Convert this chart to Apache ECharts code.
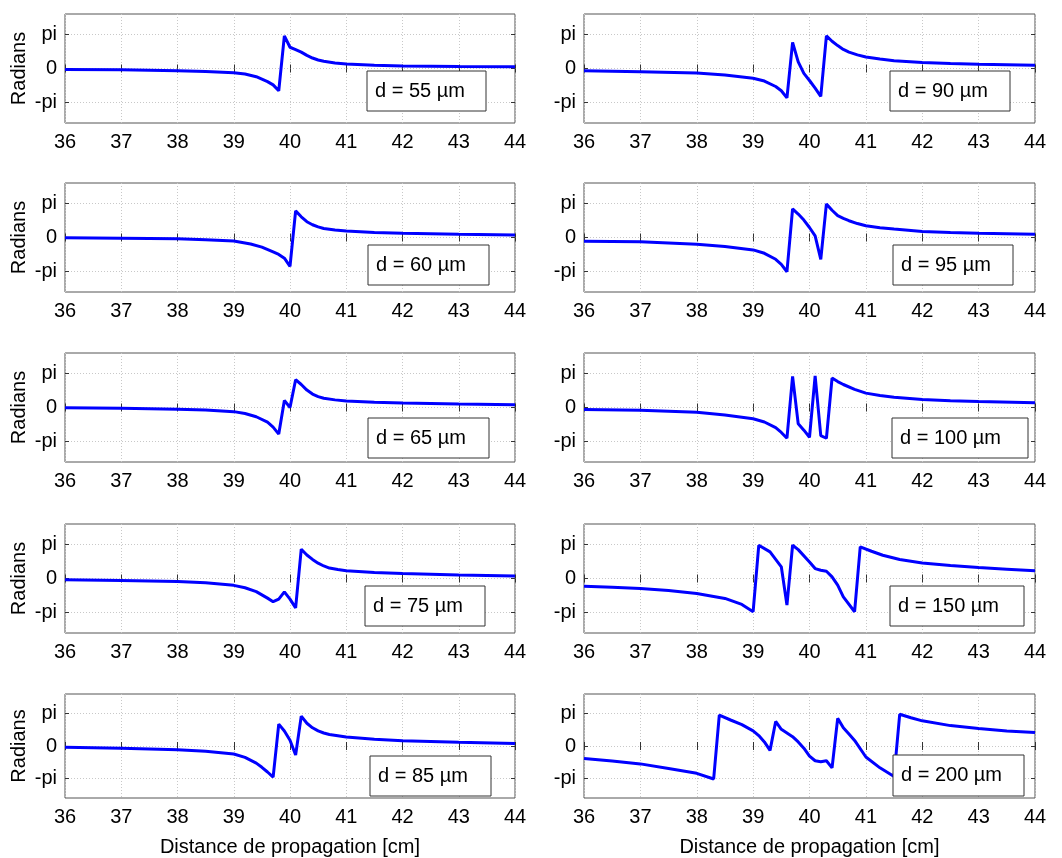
<!DOCTYPE html>
<html>
<head>
<meta charset="utf-8">
<script src="https://cdn.jsdelivr.net/npm/echarts@6/dist/echarts.min.js"></script>
<style>
html,body{margin:0;padding:0;background:#fff;}
#c{width:1062px;height:858px;}
</style>
</head>
<body>
<div id="c"></div>
<script>
// ---- data (x in cm, y in radians) ----
const d55 = [[36,-0.09],[37,-0.12],[38,-0.21],[38.5,-0.27],[39,-0.39],[39.2,-0.51],[39.4,-0.75],[39.6,-1.2],[39.7,-1.5],[39.8,-2.04],[39.9,3.0],[40.0,1.95],[40.1,1.74],[40.2,1.5],[40.3,1.2],[40.4,0.96],[40.5,0.78],[40.6,0.66],[40.8,0.51],[41,0.42],[41.5,0.3],[42,0.24],[43,0.18],[44,0.15]];
const d60 = [[36,-0.03],[37,-0.06],[38,-0.12],[38.5,-0.2],[39,-0.32],[39.3,-0.59],[39.5,-0.88],[39.7,-1.32],[39.8,-1.55],[39.9,-1.9],[40.0,-2.65],[40.1,2.44],[40.2,1.9],[40.3,1.45],[40.4,1.17],[40.5,0.97],[40.6,0.82],[40.8,0.68],[41,0.59],[41.5,0.46],[42,0.38],[43,0.29],[44,0.23]];
const d65 = [[36,-0.03],[37,-0.06],[38,-0.15],[38.5,-0.24],[39,-0.38],[39.2,-0.55],[39.4,-0.85],[39.6,-1.35],[39.7,-1.8],[39.8,-2.44],[39.9,0.65],[40.0,0],[40.1,2.55],[40.2,2.11],[40.3,1.6],[40.4,1.23],[40.5,1.0],[40.6,0.85],[40.8,0.7],[41,0.59],[41.5,0.48],[42,0.41],[43,0.32],[44,0.26]];
const d75 = [[36,-0.12],[37,-0.18],[38,-0.27],[38.5,-0.4],[39,-0.63],[39.2,-0.85],[39.4,-1.2],[39.6,-1.8],[39.7,-2.13],[39.8,-1.89],[39.9,-1.23],[40.0,-1.89],[40.1,-2.69],[40.2,2.69],[40.3,2.16],[40.4,1.75],[40.5,1.41],[40.6,1.15],[40.7,0.96],[40.85,0.82],[41,0.72],[41.5,0.56],[42,0.45],[43,0.33],[44,0.24]];
const d85 = [[36,-0.12],[37,-0.21],[38,-0.36],[38.5,-0.5],[39,-0.77],[39.2,-1.1],[39.4,-1.65],[39.5,-2.05],[39.6,-2.5],[39.7,-2.99],[39.8,2.1],[39.9,1.45],[40.0,0.56],[40.1,-0.86],[40.2,2.87],[40.3,2.19],[40.4,1.75],[40.5,1.45],[40.6,1.25],[40.7,1.1],[41,0.86],[41.5,0.65],[42,0.5],[43,0.36],[44,0.24]];
const d90 = [[36,-0.21],[37,-0.3],[38,-0.42],[38.5,-0.6],[39,-0.9],[39.2,-1.15],[39.4,-1.65],[39.5,-2.04],[39.6,-2.7],[39.7,2.4],[39.8,0.6],[39.9,-0.45],[40.0,-1.1],[40.1,-1.8],[40.2,-2.55],[40.3,3.0],[40.4,2.5],[40.5,2.1],[40.6,1.75],[40.7,1.5],[40.85,1.25],[41,1.05],[41.25,0.87],[41.5,0.72],[42,0.54],[42.5,0.46],[43,0.39],[44,0.3]];
const d95 = [[36,-0.34],[37,-0.4],[38,-0.62],[38.5,-0.82],[39,-1.14],[39.2,-1.45],[39.4,-2.0],[39.5,-2.46],[39.6,-3.14],[39.7,2.62],[39.8,2.15],[39.9,1.6],[40.0,0.92],[40.1,0.15],[40.2,-2.0],[40.3,3.08],[40.4,2.5],[40.5,2.0],[40.6,1.75],[40.7,1.54],[40.85,1.28],[41,1.08],[41.25,0.9],[41.5,0.77],[42,0.55],[42.5,0.47],[43,0.4],[44,0.3]];
const d100 = [[36,-0.18],[37,-0.26],[38,-0.44],[38.5,-0.68],[39,-1.03],[39.2,-1.33],[39.4,-1.85],[39.5,-2.29],[39.6,-2.82],[39.7,2.85],[39.8,-1.5],[39.9,-2.08],[40.0,-2.73],[40.1,2.91],[40.2,-2.58],[40.3,-2.82],[40.4,2.7],[40.5,2.38],[40.6,2.11],[40.8,1.67],[41,1.32],[41.25,1.1],[41.5,0.94],[42,0.73],[42.5,0.63],[43,0.56],[44,0.44]];
const d150 = [[36,-0.7],[36.5,-0.8],[37,-0.91],[37.5,-1.1],[38,-1.37],[38.5,-1.83],[38.8,-2.38],[39.0,-3.05],[39.1,3.05],[39.3,2.44],[39.5,1.07],[39.6,-2.44],[39.7,3.05],[39.8,2.65],[40.0,1.52],[40.1,0.91],[40.2,0.76],[40.3,0.67],[40.4,0.15],[40.5,-0.61],[40.6,-1.68],[40.8,-3.05],[40.9,2.9],[41.1,2.5],[41.3,2.13],[41.6,1.74],[42,1.43],[42.5,1.19],[43,1.0],[43.5,0.85],[44,0.7]];
const d200 = [[36,-1.21],[36.5,-1.45],[37,-1.72],[37.5,-2.17],[38.0,-2.63],[38.3,-3.17],[38.4,2.96],[38.6,2.5],[38.8,2.05],[39.0,1.45],[39.1,1.0],[39.2,0.39],[39.3,-0.42],[39.4,2.36],[39.5,1.6],[39.7,0.9],[39.8,0.39],[39.9,-0.21],[40.0,-0.97],[40.1,-1.42],[40.2,-1.51],[40.3,-1.42],[40.4,-2.11],[40.5,2.66],[40.6,1.75],[40.7,1.15],[40.8,0.54],[41.0,-1.06],[41.25,-2.1],[41.5,-2.93],[41.6,3.05],[41.8,2.72],[42,2.42],[42.5,1.96],[43,1.69],[43.5,1.45],[44,1.3]];

const seriesData = [d55, d60, d65, d75, d85, d90, d95, d100, d150, d200];
const labels = ['d = 55 µm','d = 60 µm','d = 65 µm','d = 75 µm','d = 85 µm','d = 90 µm','d = 95 µm','d = 100 µm','d = 150 µm','d = 200 µm'];
const yTickValues = [-Math.PI, 0, Math.PI];
const yTickLabels = ['-pi', '0', 'pi'];
const xMin = 36, xMax = 44, yMin = -5, yMax = 5;
const xLabel = 'Distance de propagation [cm]';
const yLabel = 'Radians';

// ---- layout ----
const colLeft = [65, 584];
const colWidth = [450, 451];
const rowTop = [14, 183, 353, 524, 694];
const rowHeight = 109;
// annotation boxes [x, y, w, h]
const boxes = [
  [367,71,119,40],[368,245,121,40],[368,418,121,40],[365,586,120,40],[370,756,121,40],
  [890,71,120,40],[893,245,120,40],[892,418,136,40],[890,586,134,40],[893,755,131,41]
];
const FONT = "'Liberation Sans', Arial, sans-serif";
const FS = 20;

const grids = [], xAxes = [], yAxes = [], series = [], graphics = [];
for (let i = 0; i < 10; i++) {
  const col = i < 5 ? 0 : 1, row = i % 5;
  grids.push({left: colLeft[col], top: rowTop[row], width: colWidth[col], height: rowHeight,
    show: true, borderColor: '#555', borderWidth: 1, backgroundColor: '#fff'});
  const isBottom = row === 4, isLeft = col === 0;
  xAxes.push({type: 'value', gridIndex: i, min: xMin, max: xMax, interval: 1, position: 'bottom',
    axisLine: {show: false},
    axisTick: {show: true, inside: true, length: 4, lineStyle: {color: '#333'}},
    axisLabel: {show: true, margin: 9, color: '#000', fontSize: FS, fontFamily: FONT},
    splitLine: {show: true, lineStyle: {color: '#c8c8c8', type: [1, 2], width: 1}},
    name: isBottom ? xLabel : '', nameLocation: 'middle', nameGap: 39,
    nameTextStyle: {color: '#000', fontSize: FS, fontFamily: FONT}});
  xAxes.push({type: 'value', gridIndex: i, min: xMin, max: xMax, interval: 1, position: 'top',
    axisLine: {show: false}, axisLabel: {show: false}, splitLine: {show: false},
    axisTick: {show: true, inside: true, length: 4, lineStyle: {color: '#333'}}});
  yAxes.push({type: 'value', gridIndex: i, min: yMin, max: yMax, position: 'left',
    axisLine: {show: false},
    axisTick: {show: true, inside: true, length: 4, customValues: yTickValues, lineStyle: {color: '#333'}},
    axisLabel: {show: true, margin: 8, color: '#000', fontSize: FS, fontFamily: FONT,
      customValues: yTickValues,
      formatter: v => yTickLabels[yTickValues.findIndex(t => Math.abs(t - v) < 1e-6)] || ''},
    splitLine: {show: true, lineStyle: {color: '#c8c8c8', type: [1, 2], width: 1}},
    name: isLeft ? yLabel : '', nameLocation: 'middle', nameGap: 36,
    nameTextStyle: {color: '#000', fontSize: FS, fontFamily: FONT}});
  yAxes.push({type: 'value', gridIndex: i, min: yMin, max: yMax, position: 'right',
    axisLine: {show: false}, axisLabel: {show: false}, splitLine: {show: false},
    axisTick: {show: true, inside: true, length: 4, customValues: yTickValues, lineStyle: {color: '#333'}}});
  series.push({type: 'line', xAxisIndex: 2 * i, yAxisIndex: 2 * i, data: seriesData[i],
    showSymbol: false, symbol: 'none', smooth: false, animation: false, clip: true,
    lineStyle: {color: '#0000ff', width: 3}, itemStyle: {color: '#0000ff'}});
  const b = boxes[i];
  graphics.push({type: 'rect', z: 100, shape: {x: b[0], y: b[1], width: b[2], height: b[3]},
    style: {fill: '#fff', stroke: '#333', lineWidth: 1}});
  graphics.push({type: 'text', z: 101, x: b[0] + 8, y: b[1] + b[3] / 2,
    style: {text: labels[i], fill: '#000', font: FS + 'px ' + FONT, textVerticalAlign: 'middle', verticalAlign: 'middle'}});
}

const chart = echarts.init(document.getElementById('c'), null, {renderer: 'canvas'});
chart.setOption({
  animation: false,
  backgroundColor: '#fff',
  grid: grids, xAxis: xAxes, yAxis: yAxes, series: series,
  graphic: graphics
});
</script>
</body>
</html>
